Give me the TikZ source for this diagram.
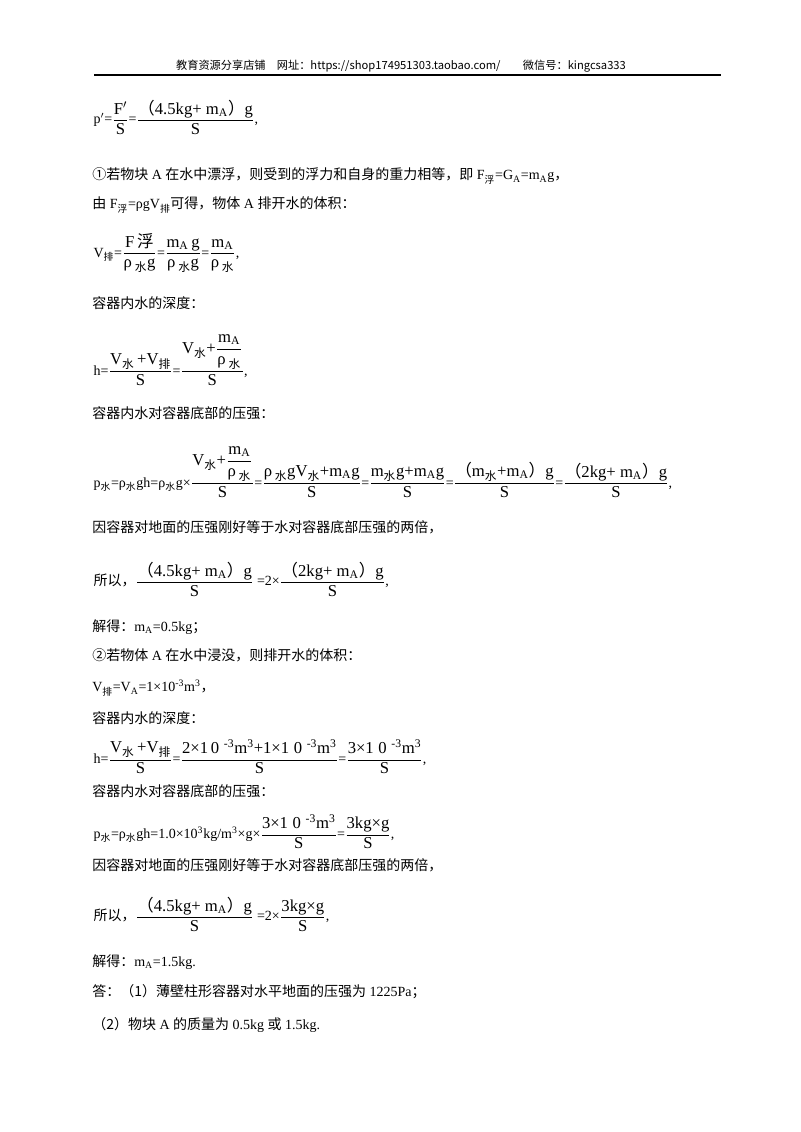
\documentclass[tikz,border=0pt]{standalone}
\usepackage{amsmath}
\usepackage{fontspec}
\setmainfont{Liberation Serif}
\newfontfamily\cjk{Noto Sans CJK SC}
\usetikzlibrary{positioning}
\newcommand{\zh}[1]{{\cjk #1}}
\newcommand{\sub}[1]{\textsubscript{#1}}
\newcommand{\sups}[1]{\textsuperscript{#1}}
\newcommand{\eqsize}{\fontsize{12.5}{14}\selectfont}
\newcommand{\fr}[2]{\ensuremath{\dfrac{\text{\eqsize #1}}{\text{\eqsize #2}}}}

\begin{document}
\begin{tikzpicture}[
        x=0.75pt, y=-0.75pt,
        para/.style={anchor=west, inner sep=0pt, font=\fontsize{10.5}{12}\selectfont},
        eqn/.style={para, inner sep=1pt},
        head/.style={inner sep=0pt, font=\cjk\fontsize{8.4}{10}\selectfont},
    ]
    \useasboundingbox[fill=white] (0,0) rectangle (800,1132);

    % page header
    \node[head] (head) at (401,66) {教育资源分享店铺\quad 网址：https://shop174951303.taobao.com/\qquad 微信号：kingcsa333};
    \coordinate (rulel) at (94,75);
    \coordinate (ruler) at (721,75);
    \draw[line width=0.8pt] (rulel) -- (ruler);

    % case 1
    \node[eqn] (pp) at (92,117) {p$'$=\fr{F$'$}{S}=\fr{\zh{（}4.5kg+ m\sub{A}\zh{）}g}{S},};
    \node[para] (c1) at (92,176) {\zh{①若物块} A \zh{在水中漂浮，则受到的浮力和自身的重力相等，即} F\sub{\zh{浮}}=G\sub{A}=m\sub{A}g\zh{，}};
    \node[para] (rho) at (92,205) {\zh{由} F\sub{\zh{浮}}=ρgV\sub{\zh{排}}\zh{可得，物体} A \zh{排开水的体积：}};
    \node[eqn] (vp) at (92,253) {V\sub{\zh{排}}=\fr{F\,\zh{浮}}{ρ\,\sub{\zh{水}}g}=\fr{m\sub{A}\,g}{ρ\,\sub{\zh{水}}g}=\fr{m\sub{A}}{ρ\,\sub{\zh{水}}},};
    \node[para] (dep1) at (92,303) {\zh{容器内水的深度：}};
    \node[eqn] (h1) at (92,360) {h=\fr{V\sub{\zh{水}}\,+V\sub{\zh{排}}}{S}=\fr{V\sub{\zh{水}}+\fr{m\sub{A}}{ρ\,\sub{\zh{水}}}}{S},};
    \node[para] (pr1) at (92,413) {\zh{容器内水对容器底部的压强：}};
    \node[eqn] (pw1) at (92,472) {p\sub{\zh{水}}=ρ\sub{\zh{水}}gh=ρ\sub{\zh{水}}g×\fr{V\sub{\zh{水}}+\fr{m\sub{A}}{ρ\,\sub{\zh{水}}}}{S}=\fr{ρ\,\sub{\zh{水}}gV\sub{\zh{水}}+m\sub{A}g}{S}=\fr{m\sub{\zh{水}}g+m\sub{A}g}{S}=\fr{\zh{（}m\sub{\zh{水}}+m\sub{A}\zh{）}g}{S}=\fr{\zh{（}2kg+ m\sub{A}\zh{）}g}{S},};
    \node[para] (tw1) at (92,527) {\zh{因容器对地面的压强刚好等于水对容器底部压强的两倍，}};
    \node[eqn] (so1) at (92,579) {\zh{所以，}\fr{\zh{（}4.5kg+ m\sub{A}\zh{）}g}{S} =2×\fr{\zh{（}2kg+ m\sub{A}\zh{）}g}{S},};
    \node[para] (ma1) at (92,627) {\zh{解得：}m\sub{A}=0.5kg\zh{；}};

    % case 2
    \node[para] (c2) at (92,655) {\zh{②若物体} A \zh{在水中浸没，则排开水的体积：}};
    \node[para] (va) at (92,688) {V\sub{\zh{排}}=V\sub{A}=1×10\sups{-3}m\sups{3}\zh{，}};
    \node[para] (dep2) at (92,718) {\zh{容器内水的深度：}};
    \node[eqn] (h2) at (92,757) {h=\fr{V\sub{\zh{水}}\,+V\sub{\zh{排}}}{S}=\fr{2×1\,0\;\sups{-3}m\sups{3}+1×1\;0\;\sups{-3}m\sups{3}}{S}=\fr{3×1\;0\;\sups{-3}m\sups{3}}{S},};
    \node[para] (pr2) at (92,791) {\zh{容器内水对容器底部的压强：}};
    \node[eqn] (pw2) at (92,832) {p\sub{\zh{水}}=ρ\sub{\zh{水}}gh=1.0×10\sups{3}kg/m\sups{3}×g×\fr{3×1\;0\;\sups{-3}m\sups{3}}{S}=\fr{3kg×g}{S},};
    \node[para] (tw2) at (92,865) {\zh{因容器对地面的压强刚好等于水对容器底部压强的两倍，}};
    \node[eqn] (so2) at (92,914) {\zh{所以，}\fr{\zh{（}4.5kg+ m\sub{A}\zh{）}g}{S} =2×\fr{3kg×g}{S},};
    \node[para] (ma2) at (92,962) {\zh{解得：}m\sub{A}=1.5kg.};

    % answer
    \node[para] (ans1) at (92,992) {\zh{答：（1）薄壁柱形容器对水平地面的压强为} 1225Pa\zh{；}};
    \node[para] (ans2) at (92,1025) {\zh{（2）物块} A \zh{的质量为} 0.5kg \zh{或} 1.5kg.};
\end{tikzpicture}
\end{document}
